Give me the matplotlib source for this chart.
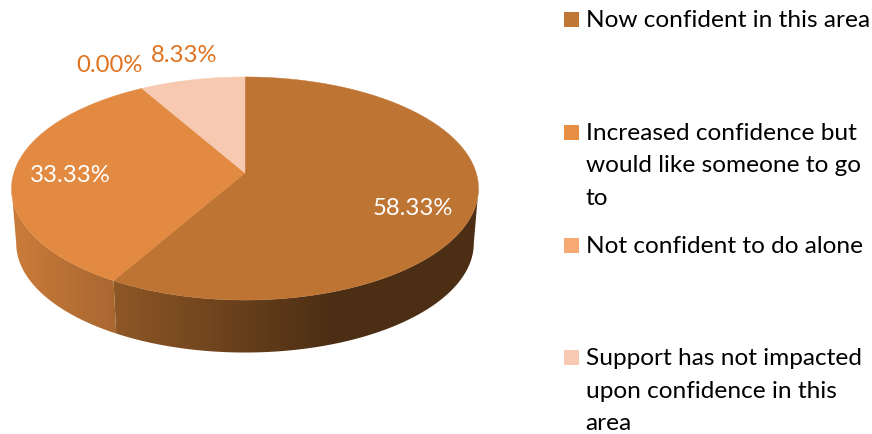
import numpy as np
from matplotlib import pyplot as plt
from matplotlib.colors import to_rgb
from matplotlib.patches import Polygon, Rectangle

plt.rcParams['font.family'] = ['Lato', 'DejaVu Sans']

categories = ['Now confident in this area',
              'Increased confidence but\nwould like someone to go\nto',
              'Not confident to do alone',
              'Support has not impacted\nupon confidence in this\narea']
values = [58.33, 33.33, 0.00, 8.33]
value_labels = ['58.33%', '33.33%', '0.00%', '8.33%']
colors = ['#BE7433', '#E28A41', '#F7A974', '#F6C9B0']
legend_colors = ['#C07635', '#E68F42', '#F7A974', '#F8C9B2']

# pie geometry in pixels
cx, cy = 245, 173
rx, ry = 231.2, 109.4
persp = 0.139   # makes the far side of the disc look smaller
depth = 55
lower_scale = 0.98

label_xy = [(413, 208.5), (70.5, 176), (109.5, 66), (184, 55.5)]
label_colors = ['white', 'white', '#E0731F', '#E0731F']
legend_y = [12, 125, 238, 350]

fig = plt.figure(figsize=(8.72, 4.34), dpi=100)
ax = fig.add_axes([0, 0, 1, 1])


def project(theta, lower=False):
    # theta in radians, clockwise from the top of the disc
    X = np.sin(theta)
    Y = np.cos(theta)
    w = 1 + persp * Y
    s = lower_scale if lower else 1.0
    d = depth if lower else 0
    return cx + s * rx * X / w, cy + d - s * ry * Y / w


def side_shade(x):
    # side wall gets darker towards the right
    return np.interp(x, [10, 113, 330], [0.90, 0.75, 0.40])


edges = np.radians(np.cumsum([0] + values) / sum(values) * 360)

# only the front of the wall shows, between the two widest points of the disc
front_start = np.arccos(-persp)
front_end = 2 * np.pi - front_start

# side wall: a horizontal gradient clipped to the outline of each slice
xs = np.arange(0, 500)
for i in range(len(values)):
    start = max(edges[i], front_start)
    end = min(edges[i + 1], front_end)
    if end <= start:
        continue
    t = np.linspace(start, end, 300)
    x0, y0 = project(t)
    x1, y1 = project(t[::-1], lower=True)
    outline = Polygon(np.column_stack([np.r_[x0, x1], np.r_[y0, y1]]),
                      transform=ax.transData, facecolor='none', edgecolor='none')
    ax.add_patch(outline)
    img = side_shade(xs)[None, :, None] * np.array(to_rgb(colors[i]))[None, None, :]
    im = ax.imshow(img, extent=(0, 500, 400, 0), aspect='auto', interpolation='bilinear')
    im.set_clip_path(outline)

ax.set_xlim(0, 872)
ax.set_ylim(434, 0)
ax.axis('off')

# top of the pie
for i in range(len(values)):
    if values[i] == 0:
        continue
    t = np.linspace(edges[i], edges[i + 1], 200)
    x, y = project(t)
    pts = [(cx, cy)] + list(zip(x, y))
    ax.add_patch(Polygon(pts, facecolor=colors[i], edgecolor=colors[i], lw=0.3, zorder=3))

# value labels
for lab, (x, y), c in zip(value_labels, label_xy, label_colors):
    ax.text(x, y, lab, color=c, fontsize=17.2, ha='center', va='center', zorder=4)

# legend
for name, c, y in zip(categories, legend_colors, legend_y):
    ax.add_patch(Rectangle((564, y), 15, 15, facecolor=c, edgecolor='none'))
    for j, line in enumerate(name.split('\n')):
        ax.text(585.5, y + 15 + j * 32.5, line, color='black', fontsize=17.55,
                ha='left', va='baseline')

plt.savefig('out.png', dpi=100)
